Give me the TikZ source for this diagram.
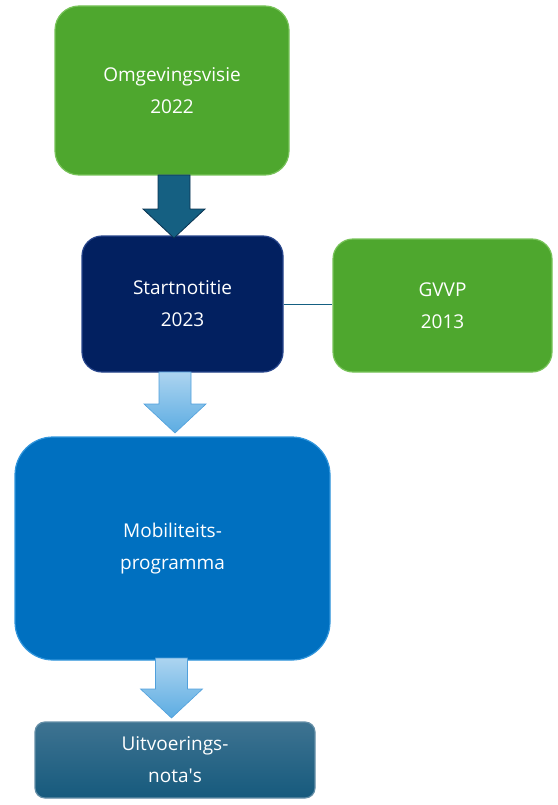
\documentclass[tikz,border=0pt]{standalone}
\usepackage{fontspec}
\setmainfont{Open Sans}
\usetikzlibrary{calc}
\definecolor{grn}{RGB}{78,167,46}
\definecolor{grnedge}{RGB}{120,195,90}
\definecolor{navy}{RGB}{2,32,96}
\definecolor{navyedge}{RGB}{40,70,140}
\definecolor{blu}{RGB}{0,112,192}
\definecolor{bluedge}{RGB}{50,150,220}
\definecolor{tealtop}{RGB}{62,115,145}
\definecolor{tealbot}{RGB}{22,90,125}
\definecolor{arrdark}{RGB}{21,96,130}
\definecolor{arrdarkedge}{RGB}{10,50,80}
\definecolor{arrltop}{RGB}{172,212,240}
\definecolor{arrlbot}{RGB}{92,172,226}
\definecolor{arrledge}{RGB}{80,160,220}
\newcommand\blockarr[3]{%
  \path[#1] let \p1=(#2), \p2=(#3) in
    (\x1-16,\y1) -- (\x1+16,\y1) -- (\x1+16,\y2+29) -- (\x1+31,\y2+29)
    -- (\x2,\y2) -- (\x1-31,\y2+29) -- (\x1-16,\y2+29) -- cycle;}
\tikzset{
  box/.style={rectangle, align=center, text=white, inner sep=0pt,
    font=\fontsize{19}{32}\selectfont, line width=1.2pt},
  greenbox/.style={box, fill=grn, draw=grnedge, rounded corners=24pt},
  navybox/.style={box, fill=navy, draw=navyedge, rounded corners=20pt},
  bluebox/.style={box, fill=blu, draw=bluedge, rounded corners=38pt},
  tealbox/.style={box, top color=tealtop, bottom color=tealbot, draw=tealtop!80!white, rounded corners=10pt},
  darkarrow/.style={fill=arrdark, draw=arrdarkedge, line width=0.8pt},
  lightarrow/.style={top color=arrltop, bottom color=arrlbot, draw=arrledge, line width=0.6pt},
  link/.style={draw=arrdark, line width=0.8pt}
}
\begin{document}
\begin{tikzpicture}[x=1pt,y=-1pt]
\useasboundingbox (0,0) rectangle (557,805);
\node[greenbox, minimum width=234pt, minimum height=169pt] (omg) at (172,90.5) {Omgevingsvisie\\2022};
\node[navybox, minimum width=201pt, minimum height=136pt] (start) at (182.5,304) {Startnotitie\\2023};
\node[greenbox, rounded corners=20pt, minimum width=219pt, minimum height=133pt] (gvvp) at (442.5,305.5) {GVVP\\2013};
\node[bluebox, minimum width=315pt, minimum height=223pt] (mob) at (172.5,548.5) {Mobiliteits-\\programma};
\node[tealbox, minimum width=280pt, minimum height=76pt] (uit) at (175,760) {Uitvoerings-\\nota\textquotesingle s};
\coordinate (a1s) at (174,175);
\coordinate (a1e) at (174,238);
\coordinate (a2s) at (175,372);
\coordinate (a2e) at (175,433);
\coordinate (a3s) at (171.5,658);
\coordinate (a3e) at (171.5,718);
\blockarr{darkarrow}{a1s}{a1e}
\blockarr{lightarrow}{a2s}{a2e}
\blockarr{lightarrow}{a3s}{a3e}
\draw[link] (start.east) -- (gvvp.west |- start.east);
\end{tikzpicture}
\end{document}
